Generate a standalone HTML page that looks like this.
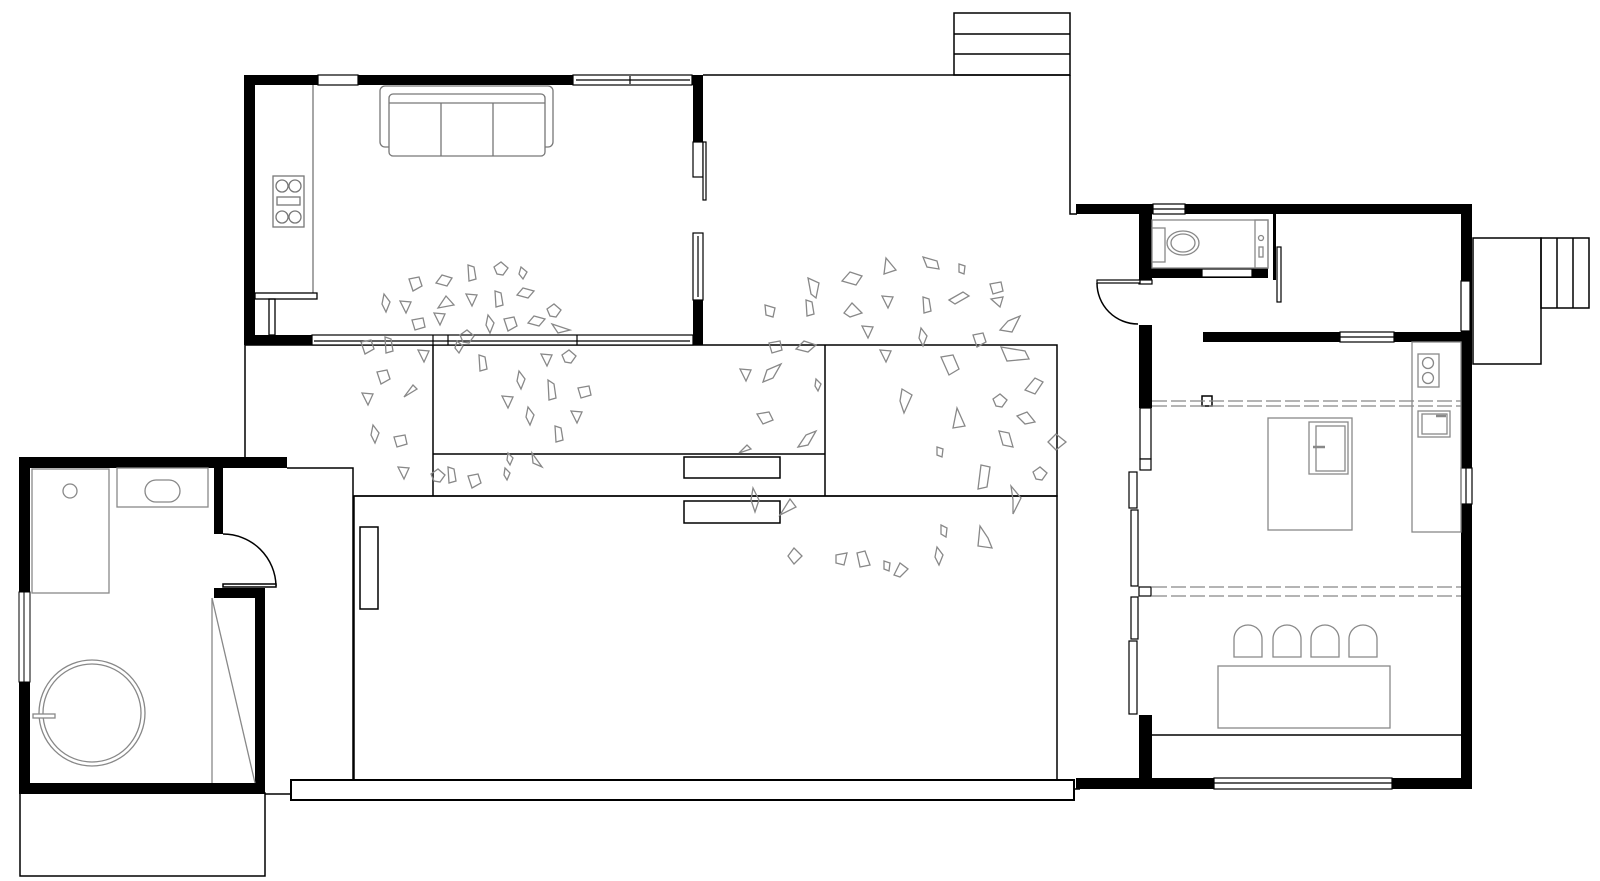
<!DOCTYPE html>
<html><head><meta charset="utf-8"><style>html,body{margin:0;padding:0;background:#fff}svg{display:block}</style></head>
<body>
<svg width="1600" height="881" viewBox="0 0 1600 881" xmlns="http://www.w3.org/2000/svg">
<g fill="none" stroke="#000" stroke-width="1.5">
<line x1="703" y1="75" x2="1070" y2="75"/>
<rect x="954" y="13" width="116" height="62"/>
<line x1="954" y1="34" x2="1070" y2="34"/><line x1="954" y1="54" x2="1070" y2="54"/>
<polyline points="1070,75 1070,214 1077,214"/>
<polyline points="245,458 245,345 1057,345 1057,496 354,496"/>
<line x1="433" y1="345" x2="433" y2="496"/>
<line x1="825" y1="345" x2="825" y2="496"/>
<line x1="433" y1="454" x2="825" y2="454"/>
<rect x="684" y="457" width="96" height="21"/>
<rect x="684" y="501" width="96" height="22"/>
<rect x="354" y="496" width="703" height="284"/>
<rect x="360" y="527" width="18" height="82"/>
<polyline points="287,468 353,468 353,780"/>
<rect x="291" y="780" width="783" height="20" stroke-width="2"/>
<line x1="1074" y1="789" x2="1080" y2="789"/>
<rect x="20" y="793" width="245" height="83"/>
<line x1="265" y1="794" x2="291" y2="794"/>
</g>
<g fill="#000">
<rect x="244" y="75" width="459" height="10"/>
<rect x="244" y="75" width="11" height="270"/>
<rect x="244" y="335" width="68" height="10"/>
<rect x="693" y="75" width="10" height="67"/>
<rect x="693" y="300" width="10" height="45"/>
</g>
<g fill="#fff" stroke="#000" stroke-width="1.2">
<rect x="318" y="75" width="40" height="10"/>
<rect x="573" y="75" width="119" height="10"/>
<line x1="576" y1="80" x2="690" y2="80"/><line x1="630" y1="76" x2="630" y2="84"/>
<rect x="312" y="335" width="381" height="10"/>
<line x1="314" y1="341" x2="690" y2="341"/>
<line x1="433" y1="335" x2="433" y2="345"/><line x1="448" y1="335" x2="448" y2="345"/><line x1="577" y1="335" x2="577" y2="345"/>
<rect x="693" y="142" width="10" height="35"/>
<rect x="703" y="142" width="3" height="58"/>
<rect x="693" y="233" width="10" height="67"/>
<line x1="698" y1="236" x2="698" y2="297"/>
</g>
<g fill="none" stroke="#777" stroke-width="1.3">
<polyline points="313,85 313,293"/>
<rect x="255" y="293" width="62" height="6" stroke="#000"/>
<rect x="269" y="299" width="6" height="36" stroke="#000"/>
<rect x="273" y="176" width="31" height="51"/>
<circle cx="282" cy="186" r="6"/><circle cx="295" cy="186" r="6"/>
<circle cx="282" cy="217" r="6"/><circle cx="295" cy="217" r="6"/>
<rect x="277" y="197" width="23" height="8"/>
<rect x="380" y="86" width="173" height="61" rx="5"/>
<rect x="389" y="94" width="156" height="62" rx="4" fill="#fff"/>
<line x1="389" y1="103" x2="545" y2="103"/>
<line x1="441" y1="103" x2="441" y2="156"/><line x1="493" y1="103" x2="493" y2="156"/>
</g>
<g fill="#000">
<rect x="19" y="457" width="268" height="11"/>
<rect x="19" y="457" width="11" height="336"/>
<rect x="19" y="783" width="246" height="11"/>
<rect x="214" y="468" width="9" height="66"/>
<rect x="214" y="588" width="51" height="10"/>
<rect x="255" y="588" width="10" height="205"/>
</g>
<g fill="#fff" stroke="#000" stroke-width="1">
<rect x="19" y="592" width="11" height="90"/>
<line x1="24" y1="592" x2="24" y2="682"/>
</g>
<g fill="none" stroke="#000" stroke-width="1.5">
<path d="M223,534 A53,53 0 0 1 276,586"/>
<rect x="223" y="584" width="53" height="3" fill="#fff"/>
</g>
<g fill="none" stroke="#888" stroke-width="1.3">
<rect x="32" y="469" width="77" height="124"/>
<circle cx="70" cy="491" r="7"/>
<rect x="117" y="468" width="91" height="39"/>
<rect x="145" y="480" width="35" height="22" rx="11"/>
<circle cx="92" cy="713" r="53"/><circle cx="92" cy="713" r="49"/>
<rect x="33" y="714" width="22" height="4" fill="#fff"/>
<line x1="212" y1="598" x2="212" y2="783"/>
<line x1="212" y1="598" x2="255" y2="783"/>
</g>
<g fill="#000">
<rect x="1076" y="204" width="396" height="10"/>
<rect x="1461" y="204" width="11" height="585"/>
<rect x="1076" y="778" width="396" height="11"/>
<rect x="1139" y="214" width="13" height="66"/>
<rect x="1139" y="325" width="13" height="83"/>
<rect x="1139" y="715" width="13" height="74"/>
<rect x="1152" y="268" width="116" height="10"/>
<rect x="1273" y="214" width="3" height="66"/>
<rect x="1203" y="332" width="258" height="10"/>
</g>
<g fill="#fff" stroke="#000" stroke-width="1.2">
<rect x="1153" y="204" width="32" height="10"/>
<line x1="1153" y1="209" x2="1185" y2="209"/>
<rect x="1461" y="281" width="9" height="50"/>
<rect x="1461" y="468" width="11" height="36"/>
<line x1="1466" y1="468" x2="1466" y2="504"/>
<rect x="1214" y="778" width="178" height="11"/>
<line x1="1214" y1="783" x2="1392" y2="783"/>
<rect x="1202" y="269" width="50" height="8"/>
<rect x="1277" y="247" width="4" height="55"/>
<rect x="1340" y="332" width="54" height="10"/>
<line x1="1340" y1="337" x2="1394" y2="337"/>
<rect x="1140" y="408" width="11" height="51"/>
<rect x="1140" y="459" width="11" height="11"/>
<rect x="1129" y="472" width="8" height="36"/>
<rect x="1131" y="510" width="7" height="76"/>
<rect x="1139" y="587" width="12" height="9"/>
<rect x="1131" y="597" width="7" height="42"/>
<rect x="1129" y="641" width="8" height="73"/>
<rect x="1139" y="280" width="13" height="4"/>
<rect x="1097" y="280" width="43" height="3"/>
</g>
<path d="M1097,283 A41,41 0 0 0 1138,324" fill="none" stroke="#000" stroke-width="1.5"/>
<line x1="1152" y1="735" x2="1461" y2="735" stroke="#000" stroke-width="1.5"/>
<g fill="none" stroke="#000" stroke-width="1.5">
<rect x="1473" y="238" width="68" height="126"/>
<rect x="1541" y="238" width="48" height="70"/>
<line x1="1557" y1="238" x2="1557" y2="308"/><line x1="1573" y1="238" x2="1573" y2="308"/>
<rect x="1202" y="396" width="10" height="10"/>
</g>
<g fill="none" stroke="#888" stroke-width="1.3">
<rect x="1152" y="220" width="116" height="48"/>
<rect x="1152" y="228" width="13" height="34" fill="#fff"/>
<ellipse cx="1183" cy="243" rx="16" ry="12"/><ellipse cx="1183" cy="243" rx="12" ry="9"/>
<rect x="1255" y="220" width="13" height="48"/>
<circle cx="1261" cy="238" r="2.5"/><rect x="1259" y="247" width="4" height="10"/>
<rect x="1412" y="342" width="49" height="190"/>
<rect x="1418" y="354" width="21" height="33"/>
<circle cx="1428" cy="363" r="5.5"/><circle cx="1428" cy="378" r="5.5"/>
<rect x="1418" y="411" width="32" height="26"/><rect x="1422" y="414" width="25" height="20"/>
<line x1="1436" y1="416" x2="1446" y2="416" stroke-width="2.5"/>
<rect x="1268" y="418" width="84" height="112"/>
<rect x="1309" y="422" width="39" height="52"/><rect x="1316" y="426" width="29" height="45"/>
<line x1="1313" y1="447" x2="1325" y2="447" stroke-width="2.5"/>
<g stroke-dasharray="15 4">
<line x1="1152" y1="401" x2="1461" y2="401"/><line x1="1152" y1="406" x2="1461" y2="406"/>
<line x1="1152" y1="587" x2="1461" y2="587"/><line x1="1152" y1="596" x2="1461" y2="596"/>
</g>
<path d="M1234,657 V639 A14,14 0 0 1 1262,639 V657 Z"/>
<path d="M1273,657 V639 A14,14 0 0 1 1301,639 V657 Z"/>
<path d="M1311,657 V639 A14,14 0 0 1 1339,639 V657 Z"/>
<path d="M1349,657 V639 A14,14 0 0 1 1377,639 V657 Z"/>
<rect x="1218" y="666" width="172" height="62"/>
</g>
<g fill="none" stroke="#888" stroke-width="1.3">
<polygon transform="translate(415,284)" points="-6,-5 4,-7 7,2 -2,7"/>
<polygon transform="translate(444,281)" points="-8,2 -2,-6 8,-3 3,5"/>
<polygon transform="translate(471,273)" points="-3,-8 3,-6 5,6 -2,8"/>
<polygon transform="translate(501,269)" points="-7,-2 0,-7 7,-1 2,6 -4,5"/>
<polygon transform="translate(523,273)" points="-2,-6 4,-1 0,6 -4,1"/>
<polygon transform="translate(386,303)" points="-2,-9 4,-1 0,9 -4,1"/>
<polygon transform="translate(405,306)" points="-5,-5 6,-4 1,7"/>
<polygon transform="translate(446,303)" points="-8,5 0,-7 8,2"/>
<polygon transform="translate(471,299)" points="-5,-5 6,-4 1,7"/>
<polygon transform="translate(498,299)" points="-3,-8 3,-6 5,6 -2,8"/>
<polygon transform="translate(525,293)" points="-8,2 -2,-5 9,-2 3,5"/>
<polygon transform="translate(554,311)" points="-7,-2 0,-7 7,-1 2,6 -4,5"/>
<polygon transform="translate(418,324)" points="-6,-4 5,-6 7,3 -3,6"/>
<polygon transform="translate(439,318)" points="-5,-5 6,-4 1,7"/>
<polygon transform="translate(467,337)" points="-7,-2 0,-7 7,-1 2,6 -4,5"/>
<polygon transform="translate(490,324)" points="-2,-9 4,-1 0,9 -4,1"/>
<polygon transform="translate(510,324)" points="-6,-5 4,-7 7,2 -2,7"/>
<polygon transform="translate(536,321)" points="-8,2 -2,-5 9,-2 3,5"/>
<polygon transform="translate(561,328)" points="-9,-4 9,2 -3,5"/>
<polygon transform="translate(367,347)" points="-6,-5 4,-7 7,2 -2,7"/>
<polygon transform="translate(388,345)" points="-3,-8 3,-6 5,6 -2,8"/>
<polygon transform="translate(423,355)" points="-5,-5 6,-4 1,7"/>
<polygon transform="translate(459,347)" points="-2,-6 4,-1 0,6 -4,1"/>
<polygon transform="translate(482,363)" points="-3,-8 3,-6 5,6 -2,8"/>
<polygon transform="translate(546,359)" points="-5,-5 6,-4 1,7"/>
<polygon transform="translate(569,357)" points="-7,-2 0,-7 7,-1 2,6 -4,5"/>
<polygon transform="translate(383,377)" points="-6,-5 4,-7 7,2 -2,7"/>
<polygon transform="translate(411,391)" points="-7,6 2,-6 6,-2"/>
<polygon transform="translate(367,398)" points="-5,-5 6,-4 1,7"/>
<polygon transform="translate(375,434)" points="-2,-9 4,-1 0,9 -4,1"/>
<polygon transform="translate(400,441)" points="-6,-4 5,-6 7,3 -3,6"/>
<polygon transform="translate(403,472)" points="-5,-5 6,-4 1,7"/>
<polygon transform="translate(438,476)" points="-7,-2 0,-7 7,-1 2,6 -4,5"/>
<polygon transform="translate(451,475)" points="-3,-8 3,-6 5,6 -2,8"/>
<polygon transform="translate(474,481)" points="-6,-5 4,-7 7,2 -2,7"/>
<polygon transform="translate(521,380)" points="-2,-9 4,-1 0,9 -4,1"/>
<polygon transform="translate(507,401)" points="-5,-5 6,-4 1,7"/>
<polygon transform="translate(551,390)" points="-3,-10 3,-6 5,8 -2,10"/>
<polygon transform="translate(584,392)" points="-6,-4 5,-6 7,3 -3,6"/>
<polygon transform="translate(530,416)" points="-2,-9 4,-1 0,9 -4,1"/>
<polygon transform="translate(558,434)" points="-3,-8 3,-6 5,6 -2,8"/>
<polygon transform="translate(576,416)" points="-5,-5 6,-4 1,7"/>
<polygon transform="translate(510,459)" points="-2,-6 3,-1 0,6 -3,1"/>
<polygon transform="translate(536,461)" points="-4,-8 6,6 -3,2"/>
<polygon transform="translate(507,474)" points="-2,-6 3,-1 0,6 -3,1"/>
<polygon transform="translate(813,288)" points="-5,-10 6,-5 3,10 -2,6"/>
<polygon transform="translate(852,279)" points="-10,2 -2,-7 10,-3 4,6"/>
<polygon transform="translate(890,268)" points="-4,-10 6,2 -6,6"/>
<polygon transform="translate(931,263)" points="-8,-6 6,-2 8,6 -4,4"/>
<polygon transform="translate(962,269)" points="-3,-5 3,-3 2,5 -3,3"/>
<polygon transform="translate(996,288)" points="-6,-4 5,-6 7,3 -3,6"/>
<polygon transform="translate(959,298)" points="-10,2 4,-6 10,-2 -4,6"/>
<polygon transform="translate(997,302)" points="-6,-3 6,-5 3,5"/>
<polygon transform="translate(770,311)" points="-5,-6 5,-3 3,6 -4,4"/>
<polygon transform="translate(809,308)" points="-3,-8 3,-6 5,6 -2,8"/>
<polygon transform="translate(852,311)" points="-8,2 0,-8 10,2 -2,6"/>
<polygon transform="translate(887,301)" points="-5,-5 6,-4 1,7"/>
<polygon transform="translate(926,305)" points="-3,-8 3,-6 5,6 -2,8"/>
<polygon transform="translate(1010,324)" points="-10,6 -2,-3 10,-8 2,8"/>
<polygon transform="translate(867,331)" points="-5,-5 6,-4 1,7"/>
<polygon transform="translate(923,337)" points="-2,-9 4,-1 0,9 -4,1"/>
<polygon transform="translate(979,340)" points="-6,-5 4,-7 7,2 -2,7"/>
<polygon transform="translate(1015,355)" points="-14,-8 10,-4 14,4 -8,6"/>
<polygon transform="translate(775,347)" points="-6,-4 5,-6 7,3 -3,6"/>
<polygon transform="translate(806,347)" points="-10,2 -2,-6 10,-2 2,5"/>
<polygon transform="translate(745,374)" points="-5,-5 6,-4 1,7"/>
<polygon transform="translate(771,374)" points="-8,8 -4,-4 10,-10 2,4"/>
<polygon transform="translate(818,385)" points="-2,-6 3,-1 0,6 -3,1"/>
<polygon transform="translate(885,355)" points="-5,-5 6,-4 1,7"/>
<polygon transform="translate(949,365)" points="-8,-8 4,-10 10,4 0,10"/>
<polygon transform="translate(1035,386)" points="-10,4 0,-8 8,-4 0,8"/>
<polygon transform="translate(1000,401)" points="-7,-2 0,-7 7,-1 2,6 -4,5"/>
<polygon transform="translate(906,401)" points="-4,-12 6,-6 -2,12 -6,0"/>
<polygon transform="translate(959,420)" points="-2,-12 6,6 -6,8"/>
<polygon transform="translate(1025,418)" points="-8,-2 2,-6 10,4 0,6"/>
<polygon transform="translate(765,418)" points="-8,-4 4,-6 8,2 -2,6"/>
<polygon transform="translate(806,439)" points="-8,8 0,-4 10,-8 2,6"/>
<polygon transform="translate(745,449)" points="-6,4 2,-4 6,0"/>
<polygon transform="translate(940,452)" points="-3,-5 3,-3 2,5 -3,3"/>
<polygon transform="translate(1005,439)" points="-6,-8 4,-6 8,8 -2,6"/>
<polygon transform="translate(1056,442)" points="-8,0 0,-8 10,0 0,8"/>
<polygon transform="translate(1040,474)" points="-7,-2 0,-7 7,-1 2,6 -4,5"/>
<polygon transform="translate(984,477)" points="-3,-12 6,-10 3,10 -6,12"/>
<polygon transform="translate(1015,500)" points="-4,-14 6,-2 -2,14 -2,0"/>
<polygon transform="translate(755,500)" points="-2,-12 4,0 0,12 -4,0"/>
<polygon transform="translate(788,507)" points="-8,8 2,-8 8,0"/>
<polygon transform="translate(944,531)" points="-3,-6 3,-3 2,6 -3,3"/>
<polygon transform="translate(984,538)" points="-4,-12 4,0 8,10 -6,8"/>
<polygon transform="translate(794,556)" points="-6,0 0,-8 8,0 0,8"/>
<polygon transform="translate(842,559)" points="-6,-4 5,-6 2,6 -6,4"/>
<polygon transform="translate(862,559)" points="-5,-6 3,-8 8,6 -2,8"/>
<polygon transform="translate(887,566)" points="-3,-5 3,-3 2,5 -3,3"/>
<polygon transform="translate(900,569)" points="-6,6 0,-6 8,0 0,8"/>
<polygon transform="translate(939,556)" points="-2,-9 4,-1 0,9 -4,1"/>
</g>
</svg>
</body></html>
